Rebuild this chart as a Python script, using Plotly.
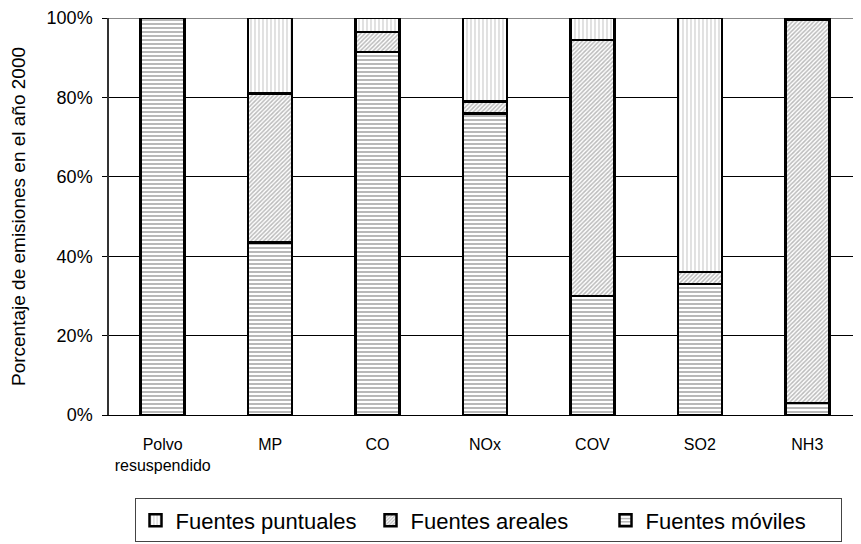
import plotly.graph_objects as go

categories = ["Polvo<br>resuspendido", "MP", "CO", "NOx", "COV", "SO2", "NH3"]
moviles = [100, 43.5, 91.5, 76, 30, 33, 3]
areales = [0, 37.5, 5, 3, 64.5, 3, 96.5]
puntuales = [0, 19, 3.5, 21, 5.5, 64, 0.5]
yticks = [0, 20, 40, 60, 80, 100]
ytick_labels = ["0%", "20%", "40%", "60%", "80%", "100%"]

FONT = "Liberation Sans, Arial, sans-serif"
line = dict(color="black", width=2.5)

fig = go.Figure()
fig.add_trace(go.Bar(
    x=categories, y=moviles, name="Fuentes móviles",
    marker=dict(color="white", line=line,
                pattern=dict(shape="-", fgcolor="#111", bgcolor="white", size=4, solidity=0.3)),
))
fig.add_trace(go.Bar(
    x=categories, y=areales, name="Fuentes areales",
    marker=dict(color="white", line=line,
                pattern=dict(shape="/", fgcolor="#777", bgcolor="white", size=3, solidity=0.5)),
))
fig.add_trace(go.Bar(
    x=categories, y=puntuales, name="Fuentes puntuales",
    marker=dict(color="white", line=line,
                pattern=dict(shape="|", fgcolor="#aaa", bgcolor="white", size=4, solidity=0.35)),
))

fig.update_layout(
    width=861, height=544,
    barmode="stack", bargap=0.59,
    plot_bgcolor="white", paper_bgcolor="white",
    margin=dict(l=101, r=8, t=10, b=137, autoexpand=False),
    font=dict(family=FONT, size=15, color="black"),
    showlegend=True,
    legend=dict(
        orientation="h", traceorder="reversed",
        x=0.504, xanchor="center", y=-0.21, yanchor="top",
        bordercolor="#444", borderwidth=1,
        font=dict(size=22), entrywidth=190,
    ),
    xaxis=dict(showline=True, linecolor="black", linewidth=1,
               ticks="", tickfont=dict(size=16), ticklabelstandoff=15),
    yaxis=dict(range=[0, 100], tickvals=yticks, ticktext=ytick_labels,
               showgrid=True, gridcolor="black", gridwidth=1,
               showline=True, linecolor="#333", linewidth=1.5,
               ticks="outside", ticklen=5, tickcolor="black",
               tickfont=dict(size=18), ticklabelstandoff=6,
               title=dict(text="Porcentaje de emisiones en el año 2000", font=dict(size=19), standoff=20)),
    shapes=[dict(type="line", xref="paper", yref="y", x0=0, x1=1, y0=100, y1=100,
                 line=dict(color="#888", width=2), layer="between")],
)

fig.write_html("out.html")
